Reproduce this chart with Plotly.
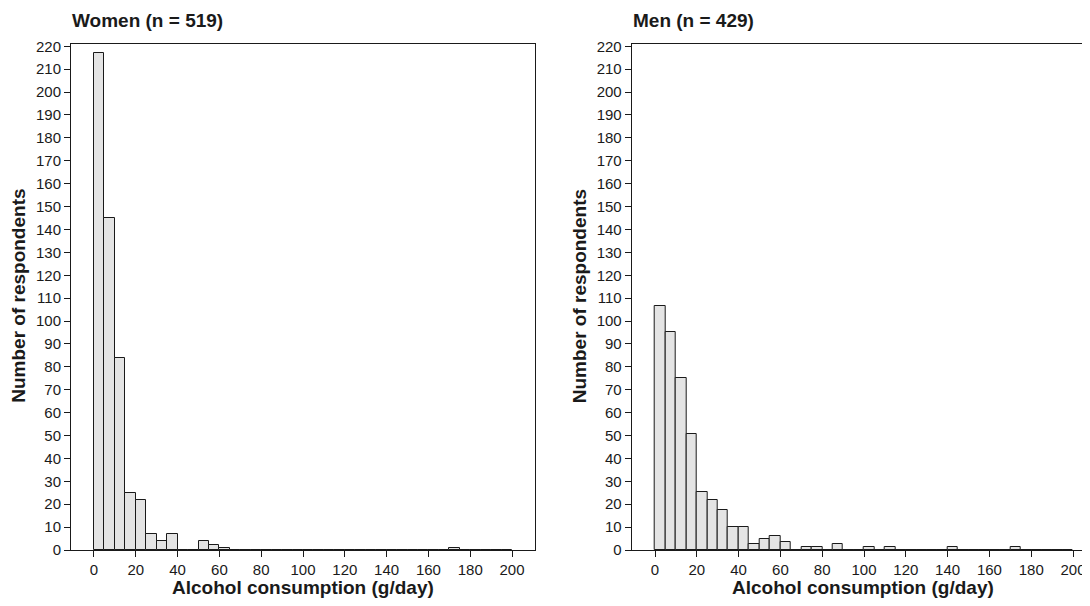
import plotly.graph_objects as go

# ---- data ----
bin_width = 5
bin_starts = list(range(0, 200, 5))
women_counts = [217, 145, 84, 25, 22, 7, 4, 7, 0, 0,
                4, 2, 1, 0, 0, 0, 0, 0, 0, 0,
                0, 0, 0, 0, 0, 0, 0, 0, 0, 0,
                0, 0, 0, 0, 1, 0, 0, 0, 0, 0]
men_counts = [106.5, 95, 75, 50.5, 25.5, 22, 17.5, 10, 10, 2.5,
              5, 6, 3.5, 0, 1.5, 1.5, 0, 2.5, 0, 0,
              1.5, 0, 1.5, 0, 0, 0, 0, 0, 1.5, 0,
              0, 0, 0, 0, 1.5, 0, 0, 0, 0, 0]
panel_titles = ["Women (n = 519)", "Men (n = 429)"]
x_title = "Alcohol consumption (g/day)"
y_title = "Number of respondents"
x_ticks = list(range(0, 201, 20))
y_ticks = list(range(0, 221, 10))

# the page body has an 8px margin; lay the figure out in page pixels and shift
OFF = 8
PAGE_W, PAGE_H = 1090, 606
W, H = PAGE_W - OFF, PAGE_H - 2 * OFF
FONT = "Liberation Sans, Arial, sans-serif"
INK = "#1a1a1a"

# plot geometry (page pixels)
top, bottom = 43.5, 550.0
left_dom = (71.0, 535.0)
right_dom = (631.7, 1090.0)
pxu = (left_dom[1] - left_dom[0]) / 222.0
left_range = [-11.0, -11.0 + (left_dom[1] - left_dom[0]) / pxu]
right_range = [-11.15, -11.15 + (right_dom[1] - right_dom[0]) / pxu]
ph = bottom - top


def fx(page_x):
    return (page_x - OFF) / W


def py(page_y):
    return (bottom - page_y) / ph


fig = go.Figure()
bar_style = dict(marker=dict(color="#e4e4e4", line=dict(color=INK, width=1)),
                 offset=0, width=bin_width, showlegend=False, hoverinfo="x+y")
fig.add_trace(go.Bar(x=bin_starts, y=women_counts, xaxis="x", yaxis="y", **bar_style))
fig.add_trace(go.Bar(x=bin_starts, y=men_counts, xaxis="x2", yaxis="y2", **bar_style))


def xax(dom, rng, anchor):
    return dict(domain=[fx(dom[0]), min(1.0, fx(dom[1]))], range=rng, anchor=anchor,
                tickmode="array", tickvals=x_ticks, ticks="outside", ticklen=6,
                tickwidth=1, tickcolor=INK, showline=True, linecolor=INK, linewidth=1,
                mirror=True, showgrid=False, zeroline=False,
                tickfont=dict(family=FONT, size=15, color=INK))


def yax(rng, anchor, mirror):
    return dict(domain=[0, 1], range=rng, anchor=anchor,
                tickmode="array", tickvals=y_ticks, ticks="outside", ticklen=6,
                tickwidth=1, tickcolor=INK, showline=True, linecolor=INK, linewidth=1,
                mirror=mirror, showgrid=False, zeroline=False,
                tickfont=dict(family=FONT, size=15, color=INK))


fig.update_layout(
    width=W, height=H,
    margin=dict(l=0, r=0, t=top - OFF, b=(PAGE_H - OFF) - bottom, pad=0),
    paper_bgcolor="white", plot_bgcolor="white",
    bargap=0,
    xaxis=xax(left_dom, left_range, "y"),
    yaxis=yax([0, 221], "x", True),
    xaxis2=xax(right_dom, right_range, "y2"),
    yaxis2=yax([0, 221], "x2", False),
)

anns = []
for title, dom in zip(panel_titles, [left_dom, right_dom]):
    anns.append(dict(text="<b>%s</b>" % title, xref="paper", yref="paper",
                     x=fx(dom[0] - 1), y=py(20), xanchor="left", yanchor="middle",
                     showarrow=False, font=dict(family=FONT, size=19, color=INK)))
for cx in [(left_dom[0] + left_dom[1]) / 2, 863.0]:
    anns.append(dict(text="<b>%s</b>" % x_title, xref="paper", yref="paper",
                     x=fx(cx), y=py(588), xanchor="center", yanchor="middle",
                     showarrow=False, font=dict(family=FONT, size=19, color=INK)))
for cx in [18.5, 579.0]:
    anns.append(dict(text="<b>%s</b>" % y_title, xref="paper", yref="paper",
                     x=fx(cx), y=py(296), xanchor="center", yanchor="middle",
                     textangle=-90, showarrow=False,
                     font=dict(family=FONT, size=19, color=INK)))
fig.update_layout(annotations=anns)

fig.write_html("out.html", default_width="%dpx" % W, default_height="%dpx" % H)
